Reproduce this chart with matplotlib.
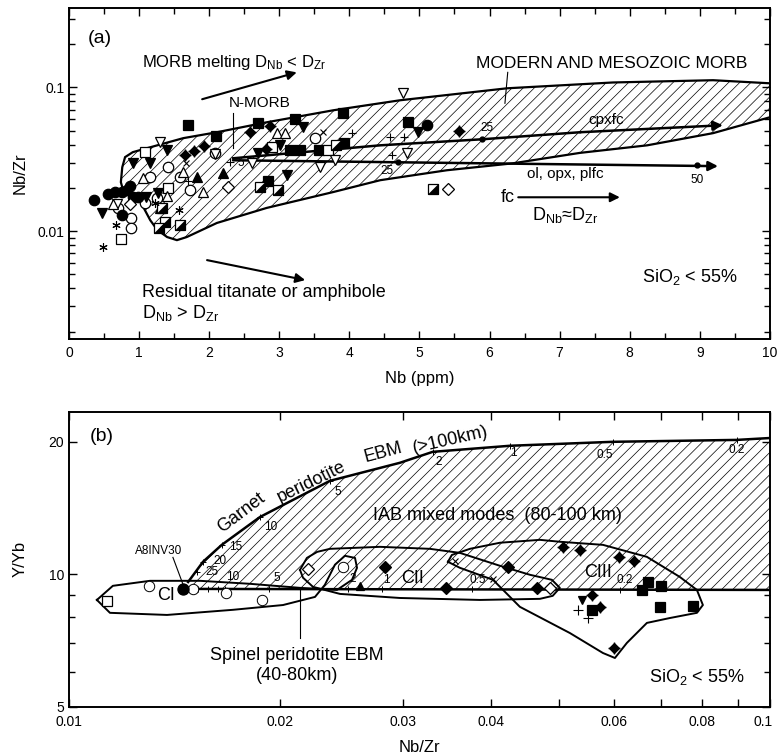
import numpy as np
import matplotlib.pyplot as plt
import matplotlib.transforms as mtransforms
from matplotlib.ticker import MultipleLocator, LogLocator, NullFormatter, FixedLocator, FixedFormatter
from matplotlib.patches import Polygon
from matplotlib.path import Path

plt.rcParams['font.family'] = ['Liberation Sans', 'DejaVu Sans']
plt.rcParams['mathtext.fontset'] = 'custom'
plt.rcParams['mathtext.rm'] = 'Liberation Sans'
plt.rcParams['mathtext.default'] = 'regular'
plt.rcParams['hatch.linewidth'] = 0.5
plt.rcParams['axes.linewidth'] = 1.4

# ---------------- panel (a): Nb (ppm) vs Nb/Zr ----------------
a_fcirc_x = [0.36, 0.56, 0.66, 0.76, 0.83, 0.87, 0.92, 0.98, 0.76, 5.11]
a_fcirc_y = [0.0164, 0.0181, 0.0187, 0.0187, 0.0193, 0.0207, 0.0172, 0.0172, 0.0129, 0.0545]
a_ocirc_x = [0.70, 0.89, 0.89, 1.08, 1.16, 1.26, 1.41, 1.58, 1.73, 2.08, 3.51]
a_ocirc_y = [0.0145, 0.0123, 0.0105, 0.0156, 0.0237, 0.0169, 0.0278, 0.0237, 0.0193, 0.0348, 0.0443]
a_fsq_x = [1.70, 2.10, 2.70, 3.22, 3.91, 2.84, 3.15, 3.30, 3.57, 3.92, 4.84]
a_fsq_y = [0.0545, 0.0457, 0.0562, 0.0600, 0.0659, 0.0222, 0.0365, 0.0365, 0.0365, 0.0410, 0.0571]
a_osq_x = [0.74, 1.08, 1.41, 2.90, 3.69]
a_osq_y = [0.0088, 0.0354, 0.0199, 0.0383, 0.0365]
a_ftridn_x = [0.47, 0.91, 1.10, 1.27, 1.40, 1.16, 2.70, 3.01, 3.34, 3.11, 4.98]
a_ftridn_y = [0.0133, 0.0296, 0.0172, 0.0184, 0.0365, 0.0296, 0.0348, 0.0395, 0.0527, 0.0245, 0.0487]
a_otridn_x = [0.68, 1.30, 2.08, 2.61, 3.58, 3.79, 4.82, 4.76]
a_otridn_y = [0.0154, 0.0415, 0.0343, 0.0296, 0.0278, 0.0311, 0.0348, 0.0909]
a_otriup_x = [0.63, 1.06, 1.40, 1.63, 1.91, 2.97, 3.08]
a_otriup_y = [0.0154, 0.0233, 0.0175, 0.0257, 0.0187, 0.0480, 0.0480]
a_ftriup_x = [1.30, 1.83, 2.20]
a_ftriup_y = [0.0145, 0.0237, 0.0253]
a_dstar_x = [1.65, 1.78, 1.93, 2.58, 2.87, 2.81, 5.56]
a_dstar_y = [0.0337, 0.0359, 0.0389, 0.0487, 0.0536, 0.0371, 0.0495]
a_odia_x = [0.87, 2.27, 5.41]
a_odia_y = [0.0154, 0.0202, 0.0196]
a_hsq_x = [1.33, 1.37, 1.28, 1.58, 2.72, 2.98, 3.81, 5.19]
a_hsq_y = [0.0145, 0.0115, 0.0105, 0.0110, 0.0202, 0.0193, 0.0395, 0.0196]
a_plus_x = [1.70, 2.30, 4.04, 4.58, 4.61, 4.78]
a_plus_y = [0.0222, 0.0301, 0.0480, 0.0450, 0.0337, 0.0450]
a_ast_x = [0.49, 0.67, 1.23, 1.57]
a_ast_y = [0.0077, 0.0110, 0.0156, 0.0140]
a_cross_x = [1.67, 3.62]
a_cross_y = [0.0296, 0.0487]

# MORB field outline
morb_x = [0.74, 0.76, 0.80, 0.91, 1.16, 1.63, 2.11, 2.82, 3.77, 4.72, 6.25, 7.76, 9.19, 10.0, 10.3,
          10.3, 10.0, 9.19, 8.25, 7.29, 6.33, 5.39, 4.44, 3.77, 2.82, 2.11, 1.68, 1.54, 1.40, 1.26,
          1.16, 1.06, 0.97, 0.84, 0.76]
morb_y = [0.0219, 0.0278, 0.0327, 0.0354, 0.0383, 0.0443, 0.0487, 0.0571, 0.0692, 0.0812, 0.0984,
          0.108, 0.112, 0.1066, 0.104, 0.065, 0.0619, 0.048, 0.0395, 0.0350, 0.0296, 0.0265, 0.0226,
          0.0187, 0.0145, 0.0114, 0.0091, 0.00866, 0.0091, 0.0102, 0.0119, 0.0147, 0.0178, 0.0193,
          0.0202]

# fractional crystallisation paths
cpx_x = [2.34, 4.44, 5.89, 7.29, 9.33]
cpx_y = [0.0321, 0.0395, 0.0435, 0.0487, 0.0545]
ol_x = [2.34, 9.26]
ol_y = [0.0311, 0.0283]
fc_dots_x = [5.89, 4.69, 8.96]
fc_dots_y = [0.0435, 0.0303, 0.0287]

# ---------------- panel (b): Nb/Zr vs Y/Yb ----------------
b_osq_x = [0.01133]
b_osq_y = [8.71]
b_ocirc_x = [0.0130, 0.01504, 0.01676, 0.01885, 0.0246]
b_ocirc_y = [9.42, 9.27, 9.08, 8.75, 10.38]
b_fcirc_x = [0.01455]
b_fcirc_y = [9.27]
b_odia_x = [0.02193, 0.0486]
b_odia_y = [10.30, 9.33]
b_fdia_x = [0.02825, 0.0345, 0.0423, 0.04655]
b_fdia_y = [10.38, 9.33, 10.38, 9.33]
b_ftriup_x = [0.0260]
b_ftriup_y = [9.42]
b_cross_x = [0.03556, 0.0403]
b_cross_y = [10.74, 9.78]
b_dstar_x = [0.0507, 0.0536, 0.0609, 0.0640, 0.0557, 0.0572, 0.0599]
b_dstar_y = [11.55, 11.39, 10.95, 10.73, 9.00, 8.44, 6.81]
b_fsq_x = [0.0670, 0.0657, 0.0699, 0.0697, 0.0776, 0.0557]
b_fsq_y = [9.61, 9.22, 9.40, 8.44, 8.49, 8.30]
b_ftridn_x = [0.0539]
b_ftridn_y = [8.75]
b_plus_x = [0.0532, 0.0550]
b_plus_y = [8.30, 7.95]

# garnet and spinel peridotite melting curves
garnet_x = [0.01479, 0.01553, 0.01652, 0.01873, 0.02089, 0.02357, 0.02965, 0.03304, 0.04256, 0.0597, 0.0897, 0.1]
garnet_y = [9.61, 10.68, 11.67, 13.5, 14.77, 16.31, 17.92, 18.98, 19.59, 20.0, 20.2, 20.4]
garnet_tick_x = [0.01523, 0.01553, 0.01652, 0.01873, 0.02357, 0.03304, 0.04256, 0.0597, 0.0897]
garnet_tick_y = [10.15, 10.68, 11.67, 13.5, 16.31, 18.98, 19.59, 20.0, 20.2]
garnet_lab = ['25', '20', '15', '10', '5', '2', '1', '0.5', '0.2']
garnet_lab_x = [0.0160, 0.0164, 0.0173, 0.0194, 0.0242, 0.0337, 0.0430, 0.0581, 0.0897]
garnet_lab_y = [10.11, 10.74, 11.55, 12.82, 15.4, 18.04, 18.9, 18.7, 19.2]
spinel_x = [0.01455, 0.1]
spinel_y = [9.27, 9.22]
spinel_tick_x = [0.0153, 0.0158, 0.0163, 0.0167, 0.0193, 0.0250, 0.0280, 0.0376, 0.0612]
spinel_lab = ['10', '5', '2', '1', '0.5', '0.2']
spinel_lab_x = [0.0171, 0.0198, 0.0254, 0.0284, 0.0383, 0.0621]
spinel_lab_y = [9.88, 9.83, 9.78, 9.73, 9.73, 9.73]

# sample group outlines CI, CII, CIII
ci_x = [0.01096, 0.01155, 0.01305, 0.01538, 0.01812, 0.02136, 0.02412, 0.02534, 0.02576, 0.02559,
        0.02476, 0.02396, 0.02318, 0.02244, 0.0202, 0.01714, 0.0138, 0.01144, 0.01096]
ci_y = [8.75, 9.42, 9.67, 9.67, 9.52, 9.32, 9.22, 9.72, 10.35, 10.90, 11.02, 10.52, 9.47, 8.89,
        8.52, 8.31, 8.09, 8.18, 8.75]
cii_x = [0.02136, 0.02185, 0.0226, 0.02357, 0.02778, 0.03273, 0.03612, 0.0412, 0.04546, 0.04887,
         0.05016, 0.0490, 0.04698, 0.03857, 0.02966, 0.02436, 0.02229, 0.02157, 0.02136]
cii_y = [10.24, 10.90, 11.25, 11.43, 11.55, 11.43, 11.19, 10.46, 9.98, 9.72, 9.32, 8.94, 8.80,
         8.75, 8.84, 9.03, 9.37, 9.83, 10.24]
ciii_x = [0.03473, 0.03518, 0.03733, 0.0412, 0.04698, 0.05016, 0.05779, 0.06677, 0.07438, 0.07869,
          0.08025, 0.07869, 0.07198, 0.06677, 0.06252, 0.06011, 0.05779, 0.05184, 0.04399, 0.04027,
          0.03612, 0.03473]
ciii_y = [10.68, 11.07, 11.43, 11.80, 11.98, 11.86, 11.67, 10.96, 9.87, 9.22, 8.52, 8.18, 7.96,
          7.76, 6.99, 6.46, 6.63, 7.36, 8.44, 9.72, 10.35, 10.68]

half_tri = Path([(-1, -1), (1, -1), (1, 1), (-1, -1)],
                [Path.MOVETO, Path.LINETO, Path.LINETO, Path.CLOSEPOLY])

BIG = 13
MID = 11
SMALL = 8.5


def pts(ax, x, y, m, filled=True, ms=6.5, mew=0.9):
    ax.plot(x, y, ls='none', marker=m, ms=ms, mfc='k' if filled else 'white',
            mec='k', mew=mew, zorder=5)


def dstar(ax, x, y, ms=5):
    pts(ax, x, y, 'D', ms=ms)
    pts(ax, x, y, '+', ms=ms + 4, mew=1.0)


def halfsq(ax, x, y, ms=6.5):
    pts(ax, x, y, 's', filled=False, ms=ms)
    ax.plot(x, y, ls='none', marker=half_tri, ms=ms, mfc='k', mec='k', mew=0.5, zorder=6)


def arrow(ax, x0, y0, x1, y1, lw=1.5, ms=14):
    ax.annotate('', xy=(x1, y1), xytext=(x0, y0),
                arrowprops=dict(arrowstyle='-|>', color='k', lw=lw, mutation_scale=ms,
                                shrinkA=0, shrinkB=0), zorder=4)


fig = plt.figure(figsize=(7.77, 7.55), dpi=100)

# ===== (a) =====
ax = fig.add_axes([0.0888, 0.551, 0.902, 0.438])
ax.set_xlim(0, 10)
ax.set_yscale('log')
ax.set_ylim(0.00178, 0.354)
ax.xaxis.set_major_locator(MultipleLocator(1))
ax.xaxis.set_minor_locator(MultipleLocator(0.5))
ax.yaxis.set_major_locator(FixedLocator([0.01, 0.1]))
ax.yaxis.set_major_formatter(FixedFormatter(['0.01', '0.1']))
ax.yaxis.set_minor_locator(LogLocator(base=10, subs=np.arange(2, 10), numticks=20))
ax.yaxis.set_minor_formatter(NullFormatter())
ax.tick_params(which='both', direction='in', top=True, right=True, labelsize=10, width=1)
ax.tick_params(which='major', length=6)
ax.tick_params(which='minor', length=4)
ax.tick_params(axis='x', pad=5)

ax.add_patch(Polygon(np.column_stack([morb_x, morb_y]), closed=True, fill=False,
                     edgecolor='k', hatch='///', lw=1.6, zorder=1))

ax.plot(cpx_x[:-1], cpx_y[:-1], 'k-', lw=1.8, zorder=3)
arrow(ax, cpx_x[-2], cpx_y[-2], cpx_x[-1], cpx_y[-1], lw=1.8)
arrow(ax, ol_x[0], ol_y[0], ol_x[1], ol_y[1], lw=1.8)
ax.plot(fc_dots_x, fc_dots_y, 'ko', ms=3.5, zorder=4)

pts(ax, a_ocirc_x, a_ocirc_y, 'o', filled=False, ms=7.5)
pts(ax, a_fcirc_x, a_fcirc_y, 'o', ms=7.5)
pts(ax, a_fsq_x, a_fsq_y, 's', ms=6.5)
pts(ax, a_osq_x, a_osq_y, 's', filled=False, ms=6.5)
pts(ax, a_ftridn_x, a_ftridn_y, 'v', ms=6.5)
pts(ax, a_otridn_x, a_otridn_y, 'v', filled=False, ms=6.5)
pts(ax, a_otriup_x, a_otriup_y, '^', filled=False, ms=6.5)
pts(ax, a_ftriup_x, a_ftriup_y, '^', ms=6.5)
dstar(ax, a_dstar_x, a_dstar_y)
pts(ax, a_odia_x, a_odia_y, 'D', filled=False, ms=6)
halfsq(ax, a_hsq_x, a_hsq_y)
pts(ax, a_plus_x, a_plus_y, '+', ms=6, mew=0.8)
pts(ax, a_ast_x, a_ast_y, (6, 2, 0), ms=6, mew=0.8)
pts(ax, a_cross_x, a_cross_y, 'x', ms=5, mew=0.8)

arrow(ax, 1.90, 0.0826, 3.25, 0.127)
arrow(ax, 1.97, 0.00629, 3.37, 0.00457)
arrow(ax, 6.41, 0.0172, 7.86, 0.0172)
ax.plot([2.34, 2.34], [0.0659, 0.0377], 'k-', lw=0.8)
ax.plot([6.26, 6.22], [0.127, 0.0774], 'k-', lw=0.8)

kw = dict(va='baseline')
ax.text(0.27, 0.202, '(a)', fontsize=14, ha='left', **kw)
ax.text(1.04, 0.138, 'MORB melting D$_{Nb}$ < D$_{Zr}$', fontsize=12, ha='left', **kw)
ax.text(2.72, 0.0726, 'N-MORB', fontsize=MID, ha='center', **kw)
ax.text(7.74, 0.1355, 'MODERN AND MESOZOIC MORB', fontsize=12.5, ha='center', **kw)
ax.text(7.67, 0.0553, 'cpxfc', fontsize=MID, ha='center', **kw)
ax.text(7.08, 0.0233, 'ol, opx, plfc', fontsize=MID, ha='center', **kw)
ax.text(5.96, 0.0495, '25', fontsize=SMALL, ha='center', **kw)
ax.text(4.54, 0.0249, '25', fontsize=SMALL, ha='center', **kw)
ax.text(2.45, 0.0283, '5', fontsize=SMALL, ha='center', **kw)
ax.text(8.96, 0.0216, '50', fontsize=SMALL, ha='center', **kw)
ax.text(6.26, 0.0159, 'fc', fontsize=BIG, ha='center', **kw)
ax.text(7.08, 0.0119, 'D$_{Nb}$≈D$_{Zr}$', fontsize=BIG, ha='center', **kw)
ax.text(8.86, 0.00442, 'SiO$_2$ < 55%', fontsize=BIG, ha='center', **kw)
ax.text(1.04, 0.00348, 'Residual titanate or amphibole', fontsize=BIG, ha='left', **kw)
ax.text(1.04, 0.00249, 'D$_{Nb}$ > D$_{Zr}$', fontsize=BIG, ha='left', **kw)

ax.set_xlabel('Nb (ppm)', fontsize=12)
ax.xaxis.set_label_coords(0.5, -0.118)
ax.xaxis.label.set_va('center')
ax.set_ylabel('Nb/Zr', fontsize=12)
ax.yaxis.set_label_coords(-0.07, 0.5)
ax.yaxis.label.set_va('center')

# ===== (b) =====
bx = fig.add_axes([0.0888, 0.0636, 0.902, 0.391])
bx.set_xscale('log')
bx.set_yscale('log')
bx.set_xlim(0.01, 0.1)
bx.set_ylim(5, 23.4)
xt = [0.01, 0.02, 0.03, 0.04, 0.05, 0.06, 0.07, 0.08, 0.09, 0.1]
xtl = ['0.01', '0.02', '0.03', '0.04', '', '0.06', '', '0.08', '', '0.1']
bx.xaxis.set_major_locator(FixedLocator(xt))
bx.xaxis.set_major_formatter(FixedFormatter(xtl))
bx.xaxis.set_minor_locator(FixedLocator([]))
bx.yaxis.set_major_locator(FixedLocator([5, 10, 20]))
bx.yaxis.set_major_formatter(FixedFormatter(['5', '10', '20']))
bx.yaxis.set_minor_locator(FixedLocator([6, 7, 8, 9]))
bx.yaxis.set_minor_formatter(NullFormatter())
bx.tick_params(which='both', direction='in', top=True, right=True, labelsize=10, width=1)
bx.tick_params(which='major', length=6)
bx.tick_params(which='minor', length=4)
bx.tick_params(axis='x', pad=6)

iab_x = garnet_x + spinel_x[::-1]
iab_y = garnet_y + spinel_y[::-1]
bx.add_patch(Polygon(np.column_stack([iab_x, iab_y]), closed=True, fill=False,
                     edgecolor='k', hatch='///', lw=0, zorder=1))
bx.plot(garnet_x, garnet_y, 'k-', lw=1.8, zorder=3)
bx.plot(spinel_x, spinel_y, 'k-', lw=1.8, zorder=3)
bx.plot(garnet_tick_x, garnet_tick_y, 'k+', ms=5, mew=0.7, zorder=3)
bx.plot(spinel_tick_x, np.interp(np.log(spinel_tick_x), np.log(spinel_x), spinel_y), 'k|',
        ms=5, mew=0.7, zorder=3)
for s, x, y in zip(garnet_lab, garnet_lab_x, garnet_lab_y):
    bx.text(x, y, s, fontsize=SMALL, ha='center', va='center')
for s, x, y in zip(spinel_lab, spinel_lab_x, spinel_lab_y):
    bx.text(x, y, s, fontsize=SMALL, ha='center', va='center')

bx.plot(ci_x, ci_y, 'k-', lw=1.4, zorder=3)
bx.plot(cii_x, cii_y, 'k-', lw=1.4, zorder=3)
bx.plot(ciii_x, ciii_y, 'k-', lw=1.4, zorder=3)

pts(bx, b_osq_x, b_osq_y, 's', filled=False, ms=6.5)
pts(bx, b_ocirc_x, b_ocirc_y, 'o', filled=False, ms=7.5, mew=0.7)
pts(bx, b_fcirc_x, b_fcirc_y, 'o', ms=8)
pts(bx, b_odia_x, b_odia_y, 'D', filled=False, ms=6)
pts(bx, b_fdia_x, b_fdia_y, 'D', ms=6)
pts(bx, b_ftriup_x, b_ftriup_y, '^', ms=6)
pts(bx, b_cross_x, b_cross_y, 'x', ms=5, mew=0.8)
dstar(bx, b_dstar_x, b_dstar_y)
pts(bx, b_fsq_x, b_fsq_y, 's', ms=6.5)
pts(bx, b_ftridn_x, b_ftridn_y, 'v', ms=6)
pts(bx, b_plus_x, b_plus_y, '+', ms=7, mew=0.8)

bx.plot([0.02136, 0.02136], [9.27, 7.18], 'k-', lw=0.8)
bx.plot([0.01407, 0.01454], [10.93, 9.5], 'k-', lw=0.8)

bx.text(0.01071, 20.1, '(b)', fontsize=14, ha='left', **kw)
bx.text(0.01759, 13.8, 'Garnet', fontsize=BIG, rotation=37, ha='center', va='center')
bx.text(0.0222, 16.2, 'peridotite', fontsize=BIG, rotation=26, ha='center', va='center')
bx.text(0.0281, 18.9, 'EBM', fontsize=BIG, rotation=15, ha='center', va='center')
bx.text(0.0350, 20.2, '(>100km)', fontsize=BIG, rotation=13, ha='center', va='center')
bx.text(0.02715, 13.3, 'IAB mixed modes  (80-100 km)', fontsize=BIG, ha='left', **kw)
bx.text(0.01375, 8.75, 'CI', fontsize=BIG, ha='center', **kw)
bx.text(0.0309, 9.57, 'CII', fontsize=BIG, ha='center', **kw)
bx.text(0.0568, 9.85, 'CIII', fontsize=BIG, ha='center', **kw)
bx.text(0.02114, 6.39, 'Spinel peridotite EBM', fontsize=BIG, ha='center', **kw)
bx.text(0.02114, 5.76, '(40-80km)', fontsize=BIG, ha='center', **kw)
bx.text(0.01344, 11.1, 'A8INV30', fontsize=SMALL, ha='center', **kw)
bx.text(0.0787, 5.7, 'SiO$_2$ < 55%', fontsize=BIG, ha='center', **kw)

bx.set_xlabel('Nb/Zr', fontsize=12)
bx.xaxis.set_label_coords(0.5, -0.136)
bx.xaxis.label.set_va('center')
bx.set_ylabel('Y/Yb', fontsize=12)
bx.yaxis.set_label_coords(-0.07, 0.5)
bx.yaxis.label.set_va('center')

# keep the last x tick label inside the figure
fig.canvas.draw()
last = bx.get_xticklabels()[-1]
last.set_transform(last.get_transform() + mtransforms.ScaledTranslation(-5 / 72, 0, fig.dpi_scale_trans))

fig.savefig('out.png', dpi=100, facecolor='white')
